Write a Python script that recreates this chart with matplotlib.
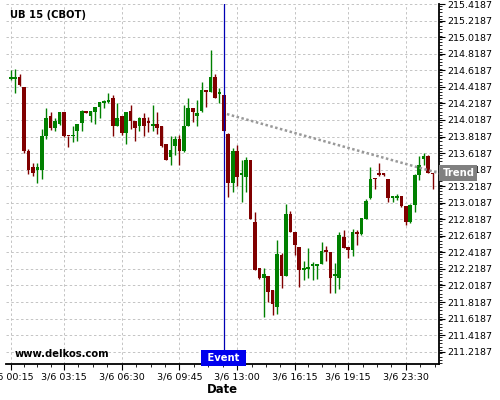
import matplotlib
matplotlib.use("Agg")
import matplotlib.pyplot as plt
import matplotlib.transforms as mtransforms
import numpy as np

title = "UB 15 (CBOT)"
opens = [214.51, 214.51, 214.54, 214.42, 213.64, 213.45, 213.42, 213.42, 213.82, 214.07,
         213.92, 213.97, 214.11, 213.83, 213.82, 213.89, 213.98, 214.12, 214.07, 214.11,
         214.17, 214.22, 214.23, 214.29, 213.95, 214.07, 213.86, 214.13, 214.01, 213.95,
         214.04, 214.01, 213.95, 213.97, 213.94, 213.73, 213.57, 213.70, 213.79, 213.64,
         213.95, 214.16, 214.07, 214.13, 214.38, 214.36, 214.54, 214.33, 214.32, 213.85,
         213.26, 213.64, 213.35, 213.33, 213.53, 212.78, 212.23, 212.11, 212.13, 211.97,
         211.76, 212.39, 212.13, 212.88, 212.67, 212.48, 212.20, 212.22, 212.25, 212.25,
         212.28, 212.45, 212.42, 212.13, 212.11, 212.60, 212.48, 212.45, 212.67, 212.64,
         212.82, 213.07, 213.32, 213.38, 213.37, 213.30, 213.07, 213.07, 213.10, 212.98,
         212.79, 212.99, 213.35, 213.55, 213.58, 213.38]
highs = [214.62, 214.63, 214.57, 214.42, 213.67, 213.50, 213.50, 213.91, 214.16, 214.11,
         214.04, 214.12, 214.11, 213.83, 213.95, 213.97, 214.14, 214.13, 214.13, 214.17,
         214.23, 214.26, 214.35, 214.32, 214.22, 214.07, 214.12, 214.20, 214.01, 214.05,
         214.10, 214.06, 214.20, 214.12, 213.95, 213.73, 213.82, 213.82, 213.84, 214.20,
         214.28, 214.16, 214.26, 214.48, 214.38, 214.87, 214.57, 214.41, 214.32, 213.86,
         213.68, 213.72, 213.53, 213.57, 213.53, 212.91, 212.23, 212.23, 212.13, 211.97,
         212.57, 212.41, 213.00, 212.92, 212.67, 212.48, 212.32, 212.47, 212.30, 212.28,
         212.54, 212.50, 212.42, 212.29, 212.67, 212.69, 212.48, 212.70, 212.69, 212.83,
         213.06, 213.45, 213.32, 213.50, 213.38, 213.30, 213.10, 213.13, 213.10, 212.98,
         213.00, 213.37, 213.58, 213.62, 213.60, 213.38]
lows = [214.50, 214.35, 214.43, 213.62, 213.37, 213.34, 213.26, 213.31, 213.79, 213.90,
        213.88, 213.96, 213.81, 213.69, 213.75, 213.76, 213.88, 214.10, 214.00, 213.97,
        214.04, 214.16, 214.22, 213.82, 213.94, 213.84, 213.73, 213.91, 213.76, 213.88,
        213.82, 213.87, 213.88, 213.85, 213.69, 213.53, 213.48, 213.59, 213.48, 213.63,
        213.94, 214.00, 213.94, 214.12, 214.18, 214.36, 214.29, 214.22, 213.89, 213.09,
        213.15, 213.22, 213.03, 213.15, 212.82, 212.20, 212.10, 211.64, 211.82, 211.66,
        211.67, 211.99, 212.13, 212.67, 212.39, 212.00, 212.09, 212.11, 212.09, 212.10,
        212.28, 212.31, 211.93, 211.93, 211.98, 212.47, 212.35, 212.38, 212.51, 212.63,
        212.82, 213.06, 213.19, 213.34, 213.34, 213.03, 213.03, 213.05, 212.97, 212.75,
        212.77, 212.91, 213.29, 213.47, 213.38, 213.19]
closes = [214.52, 214.54, 214.44, 213.64, 213.42, 213.38, 213.45, 213.82, 214.04, 213.92,
          214.01, 214.11, 213.82, 213.82, 213.84, 213.97, 214.13, 214.10, 214.13, 214.17,
          214.23, 214.24, 214.26, 213.95, 214.04, 213.86, 214.11, 214.01, 213.92, 214.04,
          213.95, 213.98, 213.97, 213.92, 213.70, 213.54, 213.66, 213.79, 213.64, 213.95,
          214.16, 214.11, 214.10, 214.38, 214.36, 214.54, 214.29, 214.34, 213.89, 213.26,
          213.64, 213.33, 213.37, 213.53, 212.82, 212.20, 212.11, 212.16, 211.94, 211.79,
          212.40, 212.13, 212.88, 212.67, 212.51, 212.20, 212.23, 212.24, 212.28, 212.28,
          212.44, 212.42, 212.11, 212.15, 212.63, 212.47, 212.45, 212.67, 212.64, 212.83,
          213.04, 213.31, 213.30, 213.35, 213.35, 213.08, 213.10, 213.10, 212.98, 212.79,
          212.99, 213.35, 213.47, 213.58, 213.38, 213.36]

tick_idx = [0, 12, 25, 38, 51, 64, 76, 89]
tick_labels = ["3/6 00:15", "3/6 03:15", "3/6 06:30", "3/6 09:45",
               "3/6 13:00", "3/6 16:15", "3/6 19:15", "3/6 23:30"]
y_ticks = [211.2187, 211.4187, 211.6187, 211.8187, 212.0187, 212.2187, 212.4187,
           212.6187, 212.8187, 213.0187, 213.2187, 213.4187, 213.6187, 213.8187,
           214.0187, 214.2187, 214.4187, 214.6187, 214.8187, 215.0187, 215.2187, 215.4187]
event_idx = 48
trend_x = [48.7, 96.5]
trend_y = [214.09, 213.375]

GREEN = "#008000"
RED = "#800000"

fig = plt.figure(figsize=(5, 4), dpi=100)
ax = fig.add_axes([0.012, 0.09, 0.866, 0.90])

o = np.array(opens); h = np.array(highs); l = np.array(lows); c = np.array(closes)
x = np.arange(len(o))
up = c >= o
colors = np.where(up, GREEN, RED)
bottoms = np.minimum(o, c)
heights = np.maximum(np.abs(c - o), 0.022)
ax.vlines(x, l, h, colors=colors, linewidth=1.0, zorder=3)
ax.bar(x, heights, bottom=bottoms, width=0.82, color=colors, linewidth=0, zorder=4)

ax.set_xlim(-1.06, 96.46)
ax.set_ylim(211.07, 215.42)

ax.set_xticks(tick_idx)
ax.set_xticklabels(tick_labels, fontsize=6.8)
minors = []
for a, b in zip(tick_idx[:-1], tick_idx[1:]):
    for k in (1, 2, 3):
        minors.append(a + (b - a) * k / 4)
for k in (1, 2):
    minors.append(89 + 3.25 * k)
ax.set_xticks(minors, minor=True)
ax.set_yticks(y_ticks)
ax.set_yticklabels(["%.4f" % v for v in y_ticks], fontsize=6.8)
ax.set_yticks(np.arange(211.0787, 215.42, 0.04), minor=True)
ax.yaxis.tick_right()
ax.tick_params(axis="both", which="major", length=4, width=0.8, pad=2)
ax.tick_params(axis="both", which="minor", length=2, width=0.6)
ax.grid(True, which="major", color="#c4c4c4", linestyle=(0, (2.5, 2.5)), linewidth=0.7, zorder=0)
ax.set_axisbelow(True)
for s in ("top", "left"):
    ax.spines[s].set_visible(False)
ax.spines["right"].set_linewidth(1.3)
ax.spines["bottom"].set_linewidth(1.3)

ax.set_xlabel("Date", fontsize=8.4, fontweight="bold", labelpad=1)

# event line
ax.axvline(event_idx, color="#0000b4", linewidth=0.9, zorder=6)
trans = mtransforms.blended_transform_factory(ax.transData, ax.transAxes)
ax.text(event_idx, 0.004, " Event ", transform=trans, ha="center", va="bottom",
        fontsize=7.2, fontweight="bold", color="white", zorder=7,
        bbox=dict(boxstyle="square,pad=0.3", fc="#0000ee", ec="none"))

# trend line
ax.plot(trend_x, trend_y, color="#999999", linewidth=1.8, linestyle=(0, (1, 1)), zorder=5)
ax.annotate("Trend", xy=(1.0, trend_y[1]), xycoords=("axes fraction", "data"),
            xytext=(2.5, 0), textcoords="offset points", ha="left", va="center",
            fontsize=7.2, fontweight="bold", color="white", zorder=8, annotation_clip=False,
            bbox=dict(boxstyle="square,pad=0.3", fc="#808080", ec="none"))

fig.text(0.02, 0.962, title, fontsize=7.2, fontweight="bold", ha="left", va="center")
fig.text(0.03, 0.115, "www.delkos.com", fontsize=7.2, fontweight="bold", ha="left", va="center")

fig.savefig("out.png", dpi=100)
